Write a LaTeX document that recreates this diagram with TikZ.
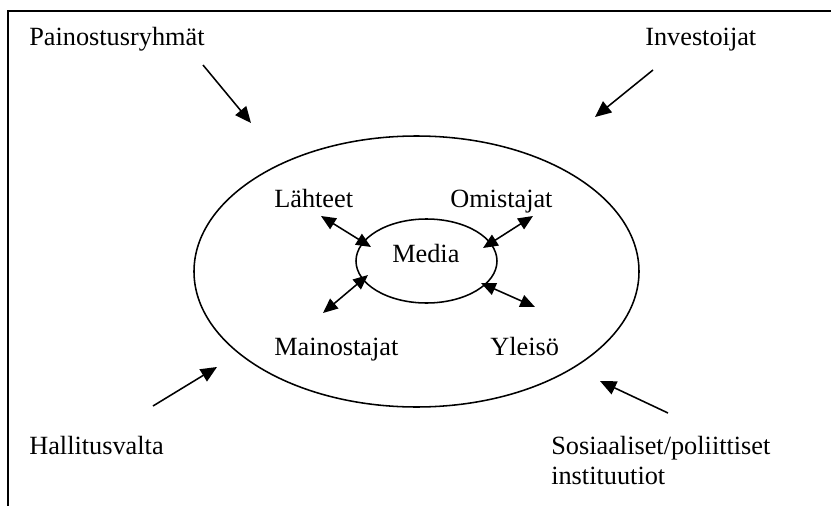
\documentclass[tikz,border=0pt]{standalone}
\usepackage{fontspec}
\setmainfont{Liberation Serif}
\usepackage{tikz}
\usetikzlibrary{arrows.meta,positioning}

\tikzset{
    lbl/.style={font=\fontsize{18.7}{21.3}\selectfont, inner sep=0pt, anchor=base west},
    push/.style={-{Triangle[length=11.5pt, width=10pt]}, line width=1.1pt},
    link/.style={{Triangle[length=10.5pt, width=9pt]}-{Triangle[length=10.5pt, width=9pt]}, line width=1.1pt},
}

\begin{document}
\begin{tikzpicture}[x=0.025cm, y=-0.025cm]
    \useasboundingbox (0,0) rectangle (831,506);
    \draw[line width=1.4pt] (8,506) -- (8,11) -- (831,11);

    \draw[line width=1.1pt] (416.5,271.5) ellipse [x radius=222.5, y radius=135.5];
    \draw[line width=1.1pt] (426.5,261) ellipse [x radius=70.5, y radius=42];

    % outside forces
    \node[lbl] (paino) at (29,45) {Painostusryhmät};
    \node[lbl] (invest) at (645,46) {Investoijat};
    \node[lbl] (hallitus) at (29,454) {Hallitusvalta};
    \node[lbl, anchor=north west, align=left] (sosiaal) at (551,436) {Sosiaaliset/poliittiset\\instituutiot};

    % inside the ring
    \node[lbl] (media) at (392,262) {Media};
    \node[lbl] (lahteet) at (274,207) {Lähteet};
    \node[lbl] (omist) at (450,207) {Omistajat};
    \node[lbl] (mainos) at (274,355) {Mainostajat};
    \node[lbl] (yleiso) at (490,355) {Yleisö};

    \coordinate (painoA) at (203,65);   \coordinate (painoB) at (251,123);
    \coordinate (investA) at (653,70);  \coordinate (investB) at (595,117);
    \coordinate (hallA) at (153,406);   \coordinate (hallB) at (217,367);
    \coordinate (sosA) at (668,413);    \coordinate (sosB) at (600,381);

    \coordinate (lahteetA) at (321,216); \coordinate (lahteetB) at (371,247);
    \coordinate (omistA) at (533,216);   \coordinate (omistB) at (483,248);
    \coordinate (mainosA) at (323,313);  \coordinate (mainosB) at (368,275);
    \coordinate (yleisoA) at (535,307);  \coordinate (yleisoB) at (481,283);

    \draw[push] (painoA) -- (painoB);
    \draw[push] (investA) -- (investB);
    \draw[push] (hallA) -- (hallB);
    \draw[push] (sosA) -- (sosB);

    \draw[link] (lahteetA) -- (lahteetB);
    \draw[link] (omistA) -- (omistB);
    \draw[link] (mainosA) -- (mainosB);
    \draw[link] (yleisoA) -- (yleisoB);
\end{tikzpicture}
\end{document}
